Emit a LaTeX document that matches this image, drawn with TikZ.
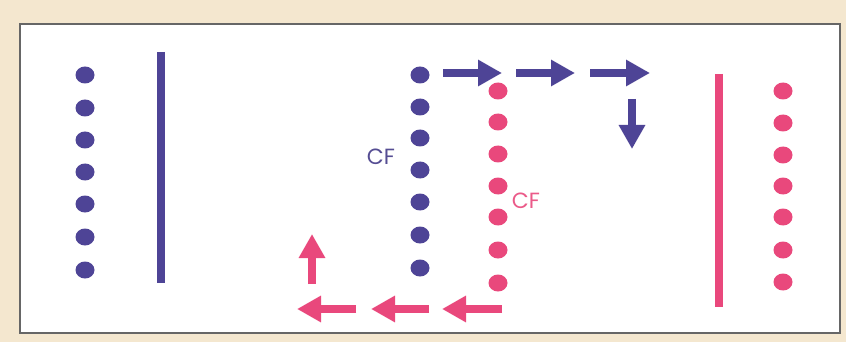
\documentclass[tikz,border=0pt]{standalone}
\usepackage{fontspec}
\setmainfont{Poppins}
\usetikzlibrary{arrows.meta,shapes.geometric}
\definecolor{paper}{HTML}{F4E7CF}
\definecolor{cfblue}{HTML}{4E4496}
\definecolor{cfpink}{HTML}{E9487C}
\tikzset{
  dotbase/.style={ellipse,minimum width=19pt,minimum height=17pt,inner sep=0pt},
  bdot/.style={dotbase,fill=cfblue},
  pdot/.style={dotbase,fill=cfpink},
  wall/.style={line width=8.5pt},
  flow/.style={line width=8pt,-{Triangle[width=25pt,length=24pt]}},
  cflabel/.style={font=\fontsize{22}{22}\selectfont,inner sep=0pt,anchor=base}
}
\begin{document}
\begin{tikzpicture}[x=1pt,y=-1pt]
  % page and frame
  \fill[paper] (0,0) rectangle (846,342);
  \draw[white,fill=white] (20,24) rectangle (840,333);
  \draw[gray!80!black,line width=1.2pt] (20,24) rectangle (840,333);
  \useasboundingbox (0,0) rectangle (846,342);

  % left blue row and wall
  \foreach \y [count=\i] in {75,108,140,172,204,237,270}
    \node[bdot] (lb\i) at (85,\y) {};
  \coordinate (lwt) at (161,52);
  \coordinate (lwb) at (161,283);
  \draw[wall,cfblue] (lwt) -- (lwb);

  % middle blue row
  \foreach \y [count=\i] in {75,107,138,170,202,235,268}
    \node[bdot] (mb\i) at (420,\y) {};

  % middle pink row
  \foreach \y [count=\i] in {91,122,154,186,217,250,283}
    \node[pdot] (mp\i) at (498,\y) {};

  % right pink wall and row
  \coordinate (rwt) at (719,74);
  \coordinate (rwb) at (719,307);
  \draw[wall,cfpink] (rwt) -- (rwb);
  \foreach \y [count=\i] in {91,123,155,186,217,250,282}
    \node[pdot] (rp\i) at (783,\y) {};

  % labels
  \node[cflabel,text=cfblue!85!gray] (cfb) at (381,164.5) {CF};
  \node[cflabel,text=cfpink!90!white] (cfp) at (526,208.5) {CF};

  % blue flow along the top, turning down
  \coordinate (ba1) at (443,73);  \coordinate (ba2) at (502,73);
  \coordinate (ba3) at (516,73);  \coordinate (ba4) at (575,73);
  \coordinate (ba5) at (590,73);  \coordinate (ba6) at (650,73);
  \coordinate (bd1) at (632,99);  \coordinate (bd2) at (632,149);
  \draw[flow,cfblue] (ba1) -- (ba2);
  \draw[flow,cfblue] (ba3) -- (ba4);
  \draw[flow,cfblue] (ba5) -- (ba6);
  \draw[flow,cfblue] (bd1) -- (bd2);

  % pink flow along the bottom, turning up
  \coordinate (pa1) at (502,309); \coordinate (pa2) at (442,309);
  \coordinate (pa3) at (429,309); \coordinate (pa4) at (371,309);
  \coordinate (pa5) at (356,309); \coordinate (pa6) at (297,309);
  \coordinate (pu1) at (312,284); \coordinate (pu2) at (312,234);
  \draw[flow,cfpink] (pa1) -- (pa2);
  \draw[flow,cfpink] (pa3) -- (pa4);
  \draw[flow,cfpink] (pa5) -- (pa6);
  \draw[flow,cfpink] (pu1) -- (pu2);
\end{tikzpicture}
\end{document}
